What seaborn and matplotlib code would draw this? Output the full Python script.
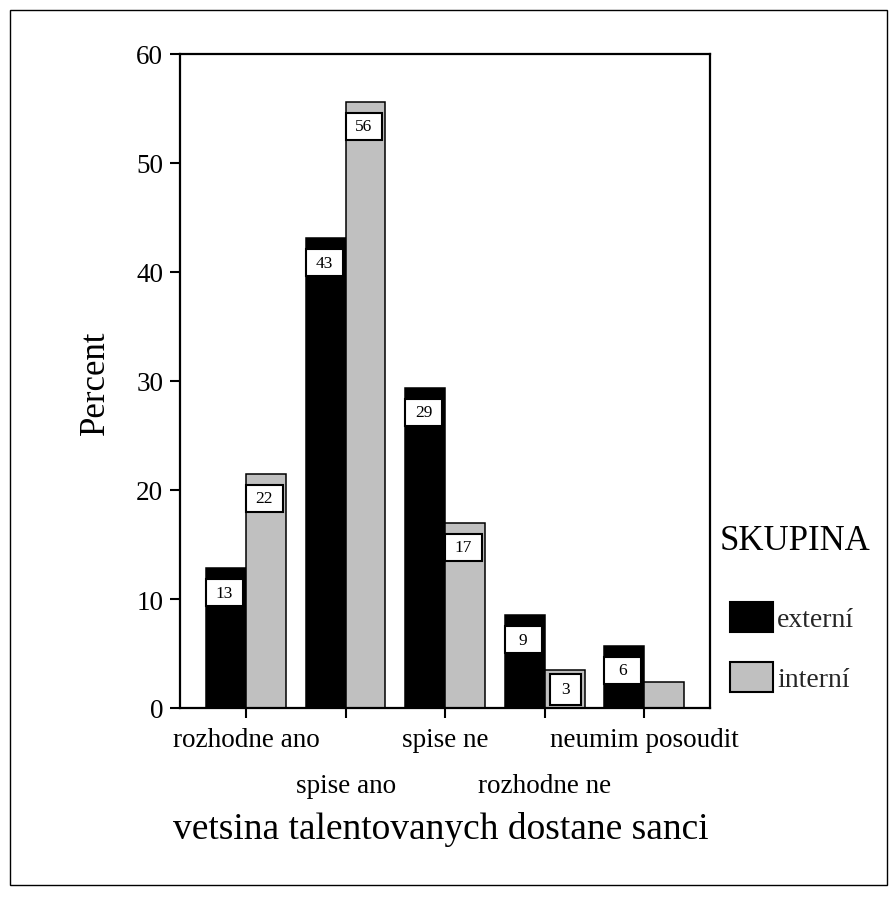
import matplotlib
matplotlib.use("Agg")
import matplotlib.pyplot as plt
from matplotlib.patches import Rectangle, Patch
from matplotlib.transforms import ScaledTranslation
import seaborn as sns
import pandas as pd

categories = ["rozhodne ano", "spise ano", "spise ne", "rozhodne ne", "neumim posoudit"]
externi = [12.8, 43.1, 29.4, 8.5, 5.7]
interni = [21.5, 55.6, 17.0, 3.5, 2.4]
externi_labels = ["13", "43", "29", "9", "6"]
interni_labels = ["22", "56", "17", "3", ""]
groups = ["externí", "interní"]
colors = ["#000000", "#c0c0c0"]

df = pd.DataFrame({
    "cat": categories * 2,
    "pct": externi + interni,
    "grp": [groups[0]] * len(categories) + [groups[1]] * len(categories),
})

sns.set_theme(style="white")
plt.rcParams["font.family"] = ["Liberation Serif", "DejaVu Serif"]

fig = plt.figure(figsize=(8.96, 9.04), dpi=100)
ax = fig.add_axes([180 / 896, 1 - 709 / 904, 530 / 896, 654 / 904])

sns.barplot(data=df, x="cat", y="pct", hue="grp", order=categories,
            hue_order=groups, palette=colors, edgecolor="black",
            linewidth=1.1, width=0.8, ax=ax, legend=False)

ax.set_xlim(-0.663, 4.66)
ax.set_ylim(0, 60)
ax.set_yticks(range(0, 61, 10))
ax.tick_params(axis="y", labelsize=19.5, direction="out", length=7, width=1.5,
               pad=5, left=True, colors="black")
ax.tick_params(axis="x", labelsize=19.5, direction="out", length=7, width=1.5,
               pad=7, bottom=True, colors="black")
ax.set_xticks(range(len(categories)))
ax.set_xticklabels(categories)
# stagger every second category label one row lower
shift = ScaledTranslation(0, -46 / 100, fig.dpi_scale_trans)
for i, lab in enumerate(ax.get_xticklabels()):
    if i % 2 == 1:
        lab.set_transform(lab.get_transform() + shift)
for s in ax.spines.values():
    s.set_visible(True)
    s.set_color("black")
    s.set_linewidth(1.6)
ax.set_xlabel("")
ax.set_ylabel("")

# value labels in white boxes
px = 654 / 60.0  # pixels per unit
label_sets = [externi_labels, interni_labels]
for cont, labs in zip(ax.containers, label_sets):
    for bar, lab in zip(cont, labs):
        if not lab:
            continue
        x0 = bar.get_x()
        w = bar.get_width()
        h = bar.get_height()
        if h < 4:
            bx, bw = x0 + 0.05, w - 0.09
            btop = h - 4 / px
            bbot = 3 / px
        else:
            bx, bw = x0, w - 0.03
            btop = h - 11 / px
            bbot = btop - 27 / px
        ax.add_patch(Rectangle((bx, bbot), bw, btop - bbot, facecolor="white",
                               edgecolor="black", linewidth=1.5, zorder=5))
        ax.text(bx + bw / 2, (btop + bbot) / 2, lab, ha="center", va="center",
                fontsize=12.5, color="black", zorder=6)

fig.text(95 / 896, 1 - 383 / 904, "Percent", rotation=90, ha="center",
         va="center", fontsize=25, color="black")
fig.text(441 / 896, 1 - 830 / 904, "vetsina talentovanych dostane sanci",
         ha="center", va="center", fontsize=27, color="black")

# legend
fig.text(720 / 896, 1 - 542 / 904, "SKUPINA", ha="left", va="center",
         fontsize=25, color="black")
handles = [Patch(facecolor=c, edgecolor="black", linewidth=1.5) for c in colors]
fig.legend(handles, groups, loc="upper left",
           bbox_to_anchor=(730 / 896, 1 - 603 / 904), frameon=False,
           fontsize=20, handlelength=1.55, handleheight=1.26,
           handletextpad=0.15, labelspacing=1.08, borderpad=0,
           borderaxespad=0)

fig.patches.append(Rectangle((10 / 896, 1 - 886 / 904), 877 / 896, 875 / 904,
                             transform=fig.transFigure, fill=False,
                             edgecolor="black", linewidth=1.0))

fig.savefig("out.png", dpi=100, facecolor="white")
